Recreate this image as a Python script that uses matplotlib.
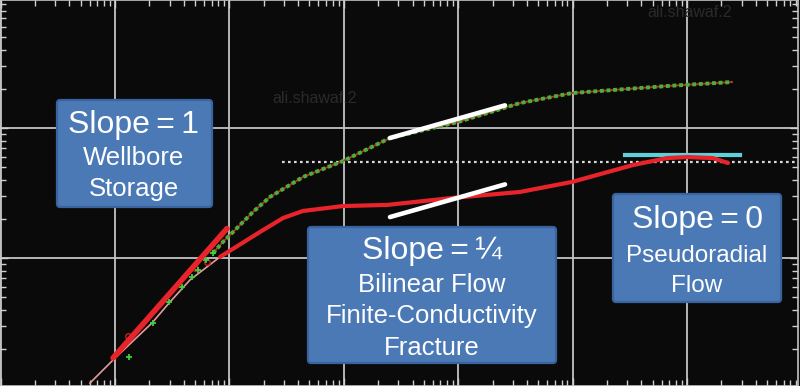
import numpy as np
import matplotlib
matplotlib.use("Agg")
import matplotlib.pyplot as plt
from matplotlib.patches import FancyBboxPatch

# ---------------- data ----------------
# pressure change: early sparse samples (markers only)
p_t_early = [0.001324, 0.002148, 0.002965, 0.003855, 0.00471, 0.00532, 0.00624, 0.00719]
p_early   = [1.73, 3.16, 4.59, 5.98, 7.14, 8.09, 9.66, 10.9]
# pressure change: continuous part
p_t = [0.00719, 0.00879, 0.01119, 0.01607, 0.02265, 0.0440, 0.0984, 0.2535,
       0.9954, 3.467, 9.886, 17.38, 66.8, 247.2]
p   = [10.9, 13.3, 16.4, 22.6, 29.5, 42.0, 55.7, 83.8,
       111.2, 155.6, 185.8, 192.8, 210.4, 225.9]

# pressure derivative
d_t = [0.000604, 0.000962, 0.002104, 0.003027, 0.004529, 0.008279, 0.01849, 0.02944,
       0.04395, 0.0984, 0.2388, 0.9016, 3.467, 9.886, 33.73, 66.8, 100.0, 168.7, 228.0]
d   = [1.09, 1.64, 3.16, 4.59, 6.78, 10.19, 15.85, 20.3,
       23.0, 25.1, 25.6, 29.0, 32.2, 38.5, 51.9, 58.7, 59.8, 58.7, 53.8]
d_data_start = 5
# scattered early derivative samples
dc_t = [0.0013, 0.0050, 0.00637]
dc   = [2.51, 8.37, 9.31]

# straight-line regime fits
ws_t = [0.000962, 0.00953]; ws_coef = 1768.0; ws_slope = 1.0
bl_t = [0.2535, 2.565]; bl_slope = 0.25
bl_upper_start = 83.8
bl_lower_start = 20.65
pr_t = [28.7, 290.4]; pr_level = 61.9
ref_t_start = 0.0288; ref_level = 54.7

xlim = (10 ** -4.005, 10 ** 2.970)
ylim = (10 ** 0.015, 10 ** 2.985)

boxes = [
    # (x0, y0, w, h) in figure pixels from top-left, lines [(text, baseline_px, size)]
    ((57, 100, 155, 107), 134, [("Slope\u2009=\u20091", 133, 23), ("Wellbore", 165, 18.5), ("Storage", 196, 18.5)]),
    ((308, 227, 248, 136), 432, [("Slope\u2009=\u2009\u00bc", 259, 23), ("Bilinear Flow", 292, 18.5),
                                 ("Finite-Conductivity", 323, 18.5), ("Fracture", 355, 18.5)]),
    ((613, 194, 168, 108), 697, [("Slope\u2009=\u20090", 228, 23), ("Pseudoradial", 262, 17.5), ("Flow", 292, 17.5)]),
]
watermarks = [("ali.shawaf.2", 315, 103), ("ali.shawaf.2", 690, 17)]

# ---------------- figure ----------------
W, H = 800, 386
fig = plt.figure(figsize=(W / 100, H / 100), dpi=100, facecolor="#0a0a0a")
ax = fig.add_axes([0, 0, 798 / W, 1])
ax.set_facecolor("#0a0a0a")
ax.set_xscale("log")
ax.set_yscale("log")
ax.set_xlim(*xlim)
ax.set_ylim(*ylim)

ax.grid(True, which="major", color="#c4c4c4", lw=1.3, zorder=1)
ax.set_axisbelow(True)
ax.tick_params(which="both", direction="in", colors="#d0d0d0", top=True, right=True,
               labelbottom=False, labelleft=False)
ax.tick_params(which="major", length=6, width=1)
ax.tick_params(which="minor", length=4, width=1)
for s in ax.spines.values():
    s.set_color("#c4c4c4")
    s.set_linewidth(1.2)

font = ["Liberation Sans", "DejaVu Sans"]
for txt, cx, by in watermarks:
    fig.text(cx / W, 1 - by / H, txt, color="#2a2a2a", fontsize=11.5, family=font,
             ha="center", va="baseline", zorder=0.5)

# reference dotted line
ax.plot([ref_t_start, xlim[1]], [ref_level, ref_level], color="#d8d8d8", lw=1.6,
        ls=(0, (1.2, 1.5)), zorder=2)

# derivative model (thin) and data (thick)
ax.plot(d_t, d, color="#e79a9a", lw=1.2, zorder=3)
ax.plot(d_t[d_data_start:], d[d_data_start:], color="#e8242a", lw=3.0, zorder=4,
        solid_capstyle="round", solid_joinstyle="round")
ax.plot(dc_t, dc, ls="none", marker="o", ms=4, mfc="none", mec="#c02020", mew=1, zorder=4)

# pressure
ax.plot(p_t, p, color="#b03a28", lw=1.3, zorder=5)
ax.plot(p_t, p, color="#4fae3a", lw=2.8, ls=(0, (1.0, 0.7)), zorder=6)
ax.plot(p_t_early, p_early, ls="none", marker="+", ms=4, mew=1.3, color="#3fcf3a", zorder=6)

# regime lines
ws_t = np.array(ws_t)
ax.plot(ws_t, ws_coef * ws_t ** ws_slope, color="#e8242a", lw=4.0, zorder=7,
        solid_capstyle="round")
bl_t = np.array(bl_t)
ax.plot(bl_t, bl_upper_start * (bl_t / bl_t[0]) ** bl_slope, color="white", lw=3.3,
        zorder=7, solid_capstyle="round")
ax.plot(bl_t, bl_lower_start * (bl_t / bl_t[0]) ** bl_slope, color="white", lw=3.3,
        zorder=7, solid_capstyle="round")
ax.plot(pr_t, [pr_level, pr_level], color="#5fd0d8", lw=3.0, zorder=3)

# annotation boxes
for (x0, y0, w, h), cx, lines in boxes:
    patch = FancyBboxPatch((x0 / W, 1 - (y0 + h) / H), w / W, h / H,
                           boxstyle="round,pad=0,rounding_size=0.004",
                           mutation_aspect=W / H, transform=fig.transFigure,
                           facecolor="#4a79b6", edgecolor="#3a64a0", lw=1.6, zorder=2)
    fig.patches.append(patch)
    for txt, by, size in lines:
        fig.text(cx / W, 1 - by / H, txt, color="white", fontsize=size, family=font,
                 ha="center", va="baseline", zorder=3)

fig.savefig("out.png", dpi=100, facecolor=fig.get_facecolor())
